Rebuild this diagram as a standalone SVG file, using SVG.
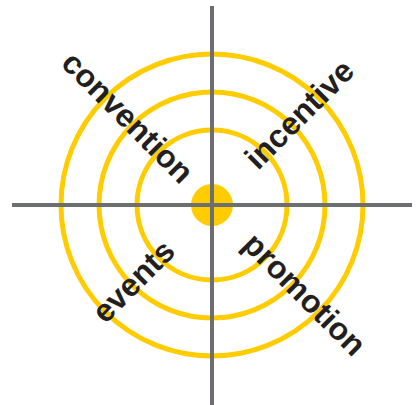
<svg xmlns="http://www.w3.org/2000/svg" width="417" height="405" viewBox="0 0 417 405">
<style>
.ring{fill:none;stroke:#FFCC00;stroke-width:5}
.axis{stroke:#6D6E71;stroke-width:4}
.lbl{font-family:"Liberation Sans",Arial,sans-serif;font-weight:bold;font-size:32px;fill:#231F20;text-anchor:middle}
</style>
<rect width="417" height="405" fill="#fff"/>
<g id="target">
<circle class="ring" cx="212" cy="205" r="151"/>
<circle class="ring" cx="212" cy="205" r="113"/>
<circle class="ring" cx="212" cy="205" r="75"/>
<circle cx="212" cy="205" r="21" fill="#FFCC00"/>
</g>
<g id="axes">
<line class="axis" x1="212" y1="6" x2="212" y2="405"/>
<line class="axis" x1="12" y1="205" x2="412" y2="205"/>
</g>
<g id="convention"><text class="lbl" transform="translate(126,119) rotate(45)" x="0" y="8.5">convention</text></g>
<g id="incentive"><text class="lbl" transform="translate(301,116) rotate(-45)" x="0" y="8.5">incentive</text></g>
<g id="events"><text class="lbl" transform="translate(135,283) rotate(-45)" x="0" y="8.5">events</text></g>
<g id="promotion"><text class="lbl" transform="translate(303,296) rotate(45)" x="0" y="8.5">promotion</text></g>
</svg>
